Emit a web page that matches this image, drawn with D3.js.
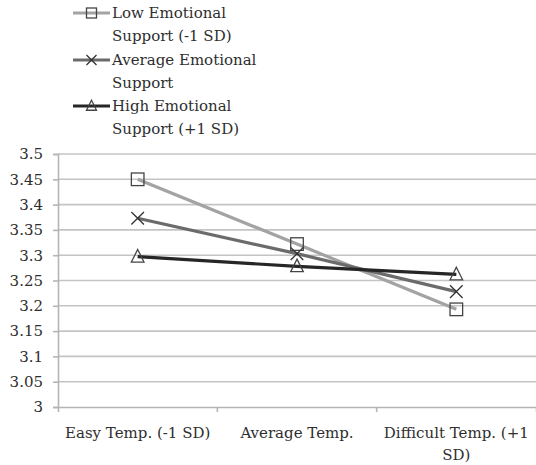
<!DOCTYPE html>
<html>
<head>
<meta charset="utf-8">
<script src="https://cdn.jsdelivr.net/npm/d3@7"></script>
<style>
  body { margin: 0; background: #fff; }
  text { font-family: "DejaVu Serif", serif; fill: #2e2e2e; }
</style>
</head>
<body>
<svg id="chart" width="536" height="465"></svg>
<script>
// categories along x
var categories = ["Easy Temp. (-1 SD)", "Average Temp.", "Difficult Temp. (+1 SD)"];

// series values
var lowSupport = [3.450, 3.322, 3.193];
var avgSupport = [3.373, 3.303, 3.228];
var highSupport = [3.297, 3.278, 3.262];

var seriesNames = ["Low Emotional Support (-1 SD)", "Average Emotional Support", "High Emotional Support (+1 SD)"];
var legendLines = [["Low Emotional", "Support (-1 SD)"], ["Average Emotional", "Support"], ["High Emotional", "Support (+1 SD)"]];

var yTicks = [3, 3.05, 3.1, 3.15, 3.2, 3.25, 3.3, 3.35, 3.4, 3.45, 3.5];

var series = [
  { name: seriesNames[0], values: lowSupport, color: "#a3a3a3", marker: "square" },
  { name: seriesNames[1], values: avgSupport, color: "#6b6b6b", marker: "cross" },
  { name: seriesNames[2], values: highSupport, color: "#262626", marker: "triangle" }
];

var svg = d3.select("#chart");

var x = d3.scaleBand()
  .domain(categories)
  .range([58, 536])
  .padding(0);

var y = d3.scaleLinear()
  .domain([3, 3.5])
  .range([407, 154]);

// gridlines
svg.append("g")
  .selectAll("line")
  .data(yTicks.slice(1))
  .enter()
  .append("line")
    .attr("x1", 58)
    .attr("x2", 536)
    .attr("y1", function(d) { return y(d); })
    .attr("y2", function(d) { return y(d); })
    .style("stroke", "#c4c4c4")
    .style("stroke-width", 1.6);

// y axis
var yAxis = svg.append("g")
  .attr("transform", "translate(58,0)")
  .call(d3.axisLeft(y).tickValues(yTicks).tickSize(5).tickPadding(10).tickFormat(d3.format("")));
yAxis.select(".domain").style("stroke", "#b5b5b5").style("stroke-width", 1.6);
yAxis.selectAll(".tick line").style("stroke", "#b5b5b5").style("stroke-width", 1.6);
yAxis.selectAll(".tick text").style("font-size", "15px").style("font-family", "DejaVu Serif").style("fill", "#2e2e2e");

// x axis
var xAxis = svg.append("g")
  .attr("transform", "translate(0,407)")
  .call(d3.axisBottom(x).tickSize(5).tickFormat(""));
xAxis.select(".domain").style("stroke", "#b5b5b5").style("stroke-width", 1.6);
xAxis.selectAll(".tick line")
  .attr("transform", "translate(" + (x.bandwidth() / 2) + ",0)")
  .style("stroke", "#b5b5b5").style("stroke-width", 1.6);
xAxis.selectAll(".tick").filter(function(d, i) { return i === categories.length - 1; }).select("line").remove();

// x labels, wrapped like the original
var xLabelLines = [["Easy Temp. (-1 SD)"], ["Average Temp."], ["Difficult Temp. (+1", "SD)"]];
categories.forEach(function(c, i) {
  var t = svg.append("text")
    .attr("x", x(c) + x.bandwidth() / 2)
    .attr("y", 438)
    .attr("text-anchor", "middle")
    .style("font-size", "15px");
  xLabelLines[i].forEach(function(line, j) {
    t.append("tspan")
      .attr("x", x(c) + x.bandwidth() / 2)
      .attr("dy", j === 0 ? 0 : 22)
      .text(line);
  });
});

var cx = function(d, i) { return x(categories[i]) + x.bandwidth() / 2; };

var line = d3.line()
  .x(function(d, i) { return cx(d, i); })
  .y(function(d) { return y(d); });

function drawMarker(g, type, px, py, r) {
  if (type === "square") {
    g.append("rect")
      .attr("x", px - r).attr("y", py - r)
      .attr("width", 2 * r).attr("height", 2 * r)
      .style("fill", "none").style("stroke", "#444").style("stroke-width", 1.3);
  } else if (type === "cross") {
    g.append("path")
      .attr("d", "M" + (px - r) + "," + (py - r) + "L" + (px + r) + "," + (py + r) +
                 "M" + (px + r) + "," + (py - r) + "L" + (px - r) + "," + (py + r))
      .style("fill", "none").style("stroke", "#333").style("stroke-width", 1.3);
  } else {
    g.append("path")
      .attr("d", "M" + px + "," + (py - r * 1.15) + "L" + (px + r) + "," + (py + r * 0.85) + "L" + (px - r) + "," + (py + r * 0.85) + "Z")
      .style("fill", "none").style("stroke", "#444").style("stroke-width", 1.3);
  }
}

series.forEach(function(s) {
  svg.append("path")
    .datum(s.values)
    .attr("d", line)
    .style("fill", "none")
    .style("stroke", s.color)
    .style("stroke-width", 3.2);
});

series.forEach(function(s) {
  var g = svg.append("g");
  s.values.forEach(function(v, i) {
    drawMarker(g, s.marker, cx(v, i), y(v), 6.3);
  });
});

// legend
var legendY = [13, 60, 106];
series.forEach(function(s, i) {
  var g = svg.append("g");
  g.append("line")
    .attr("x1", 73).attr("x2", 110)
    .attr("y1", legendY[i]).attr("y2", legendY[i])
    .style("stroke", s.color).style("stroke-width", 3.2);
  drawMarker(g, s.marker, 91.5, legendY[i], 5);
  var t = g.append("text")
    .attr("x", 112)
    .attr("y", legendY[i] + 5)
    .style("font-size", "15px");
  legendLines[i].forEach(function(l, j) {
    t.append("tspan").attr("x", 112).attr("dy", j === 0 ? 0 : 23).text(l);
  });
});
</script>
</body>
</html>
